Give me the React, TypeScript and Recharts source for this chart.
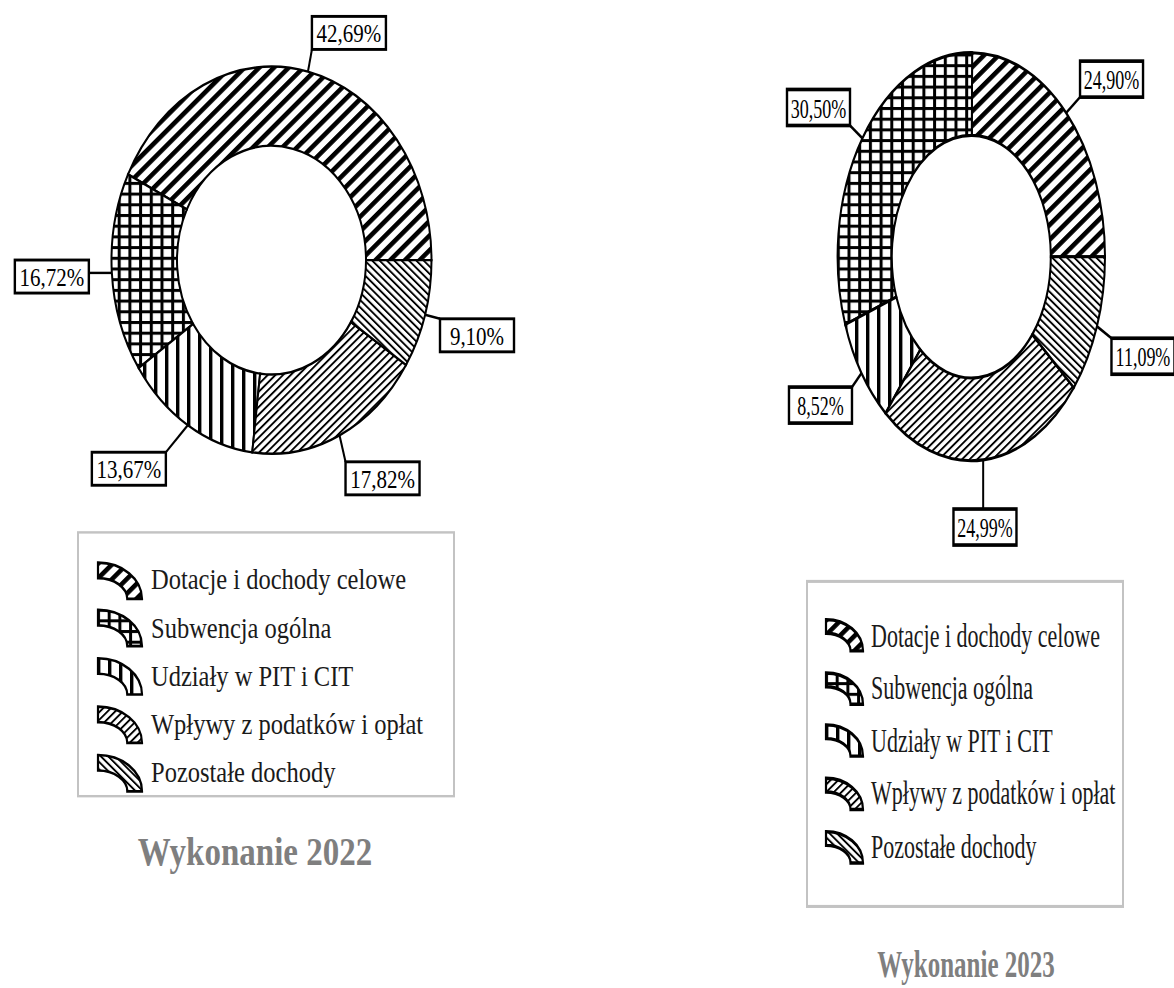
import { Cell, Pie, PieChart } from 'recharts'

// Revenue structure, shares in %
const CATEGORIES = [
  'Dotacje i dochody celowe',
  'Subwencja ogólna',
  'Udziały w PIT i CIT',
  'Wpływy z podatków i opłat',
  'Pozostałe dochody',
]
const SHARES_2022 = [42.69, 16.72, 13.67, 17.82, 9.1]
const SHARES_2023 = [24.9, 30.5, 8.52, 24.99, 11.09]
const TITLES = ['Wykonanie 2022', 'Wykonanie 2023']

const PATTERN_KEYS = ['dot', 'grid', 'vert', 'fine', 'back']
const SERIF = '"Liberation Serif", "Times New Roman", serif'

// Both source charts are vertically stretched pictures; each panel is drawn
// round and then stretched by `stretch`, which also squeezes the text like the original.
const PANELS = [
  {
    id: 'y22',
    shares: SHARES_2022,
    title: TITLES[0],
    left: 0,
    width: 580,
    height: 816,
    stretch: 1.21,
    cx: 266.5,
    cy: 210,
    outer: 160,
    inner: 94.5,
    box: [74, 27.3],
    labelFont: 21,
    nudge: [
      [41, -32],
      [-60, 3],
      [-59, 36],
      [43, 35.5],
      [52, 17],
    ],
    legend: { x: 77, y: 439, w: 378, h: 220, iconX: 97, first: 479.5, step: 39.8, font: 24.5, icon: [46, 32], gap: 8 },
    titleBox: { x: 0, w: 510, y: 704, font: 33 },
  },
  {
    id: 'y23',
    shares: SHARES_2023,
    title: TITLES[1],
    left: 580,
    width: 594,
    height: 648,
    stretch: 1.526,
    cx: 386.3,
    cy: 163.2,
    outer: 133.7,
    inner: 79.5,
    box: [63, 23.6],
    labelFont: 18,
    nudge: [
      [45.4, -22.1],
      [-43.9, -20.2],
      [-41, 21],
      [1.8, 44],
      [46, 19.6],
    ],
    legend: { x: 226, y: 380, w: 318, h: 215, iconX: 245, first: 416.5, step: 34.6, font: 22, icon: [39, 22.5], gap: 7 },
    titleBox: { x: 186, w: 400, y: 631, font: 25 },
  },
]

type Panel = (typeof PANELS)[number]

function fmt(v: number): string {
  return v.toFixed(2).replace('.', ',') + '%'
}

function Patterns({ id, k }: { id: string; k: number }) {
  const fix = `scale(1 ${1 / k})`
  return (
    <defs>
      <pattern id={`${id}-dot`} patternUnits="userSpaceOnUse" width={10.4} height={10.4} patternTransform={`${fix} rotate(45)`}>
        <rect width={10.4} height={10.4} fill="#fff" />
        <rect width={4.6} height={10.4} fill="#000" />
      </pattern>
      <pattern id={`${id}-grid`} patternUnits="userSpaceOnUse" width={10.7} height={10.7} patternTransform={fix}>
        <rect width={10.7} height={10.7} fill="#fff" />
        <rect width={3} height={10.7} fill="#000" />
        <rect width={10.7} height={3} fill="#000" />
      </pattern>
      <pattern id={`${id}-vert`} patternUnits="userSpaceOnUse" width={11} height={11} patternTransform={fix}>
        <rect width={11} height={11} fill="#fff" />
        <rect width={3.4} height={11} fill="#000" />
      </pattern>
      <pattern id={`${id}-fine`} patternUnits="userSpaceOnUse" width={5.4} height={5.4} patternTransform={`${fix} rotate(45)`}>
        <rect width={5.4} height={5.4} fill="#fff" />
        <rect width={1.9} height={5.4} fill="#000" />
      </pattern>
      <pattern id={`${id}-back`} patternUnits="userSpaceOnUse" width={5.2} height={5.2} patternTransform={`${fix} rotate(-45)`}>
        <rect width={5.2} height={5.2} fill="#fff" />
        <rect width={1.9} height={5.2} fill="#000" />
      </pattern>
    </defs>
  )
}

function makeLabel(p: Panel) {
  return (props: any) => {
    const { cx, cy, midAngle, outerRadius, index, value } = props
    const a = (-midAngle * Math.PI) / 180
    const ex = cx + outerRadius * Math.cos(a)
    const ey = cy + outerRadius * Math.sin(a)
    const [dx, dy] = p.nudge[index]
    const bx = ex + dx
    const by = ey + dy
    const [w, h] = p.box
    const x0 = bx - w / 2
    const y0 = by - h / 2
    const lx = Math.min(Math.max(ex, x0), x0 + w)
    const ly = Math.min(Math.max(ey, y0), y0 + h)
    return (
      <g key={`lbl-${index}`}>
        <line x1={ex} y1={ey} x2={lx} y2={ly} stroke="#000" strokeWidth={2} />
        <rect x={x0} y={y0} width={w} height={h} fill="#fff" stroke="#000" strokeWidth={2.4} />
        <text
          x={bx}
          y={by + 0.5}
          textAnchor="middle"
          dominantBaseline="central"
          fontFamily={SERIF}
          fontSize={p.labelFont}
          fill="#000"
        >
          {fmt(value)}
        </text>
      </g>
    )
  }
}

function LegendIcon({ id, pattern, w, h }: { id: string; pattern: string; w: number; h: number }) {
  const t = w * 0.32
  const tv = h * 0.4
  const d = `M1 1 A${w - 2} ${h - 2} 0 0 1 ${w - 1} ${h - 1} L${w - 1 - t} ${h - 1} A${w - 2 - t} ${h - 2 - tv} 0 0 0 1 ${1 + tv} Z`
  return (
    <svg width={w} height={h} style={{ display: 'block', overflow: 'visible' }}>
      <path d={d} fill={`url(#${id}-${pattern})`} stroke="#000" strokeWidth={2.2} strokeLinejoin="miter" />
    </svg>
  )
}

function DonutPanel({ p }: { p: Panel }) {
  const data = CATEGORIES.map((name, i) => ({ name, share: p.shares[i] }))
  const lg = p.legend
  return (
    <div
      style={{
        position: 'absolute',
        left: p.left,
        top: 0,
        width: p.width,
        height: p.height,
        transform: `scaleY(${p.stretch})`,
        transformOrigin: '0 0',
      }}
    >
      <svg width={0} height={0} style={{ position: 'absolute' }}>
        <Patterns id={p.id} k={p.stretch} />
      </svg>
      <div style={{ position: 'absolute', left: 0, top: 0 }}>
        <PieChart width={p.width} height={p.height - 140}>
          <Pie
            data={data}
            dataKey="share"
            nameKey="name"
            cx={p.cx}
            cy={p.cy}
            outerRadius={p.outer}
            innerRadius={p.inner}
            startAngle={0}
            endAngle={360}
            stroke="#000"
            strokeWidth={2}
            label={makeLabel(p)}
            labelLine={false}
            isAnimationActive={false}
          >
            {data.map((d, i) => (
              <Cell key={d.name} fill={`url(#${p.id}-${PATTERN_KEYS[i]})`} />
            ))}
          </Pie>
        </PieChart>
      </div>

      <div
        style={{
          position: 'absolute',
          left: lg.x,
          top: lg.y,
          width: lg.w,
          height: lg.h,
          boxSizing: 'border-box',
          border: '2px solid #c3c3c3',
          background: '#fff',
        }}
      />
      {CATEGORIES.map((name, i) => (
        <div
          key={name}
          style={{
            position: 'absolute',
            left: lg.iconX,
            top: lg.first + i * lg.step - lg.icon[1] / 2,
            height: lg.icon[1],
            display: 'flex',
            alignItems: 'center',
            gap: lg.gap,
            whiteSpace: 'nowrap',
          }}
        >
          <LegendIcon id={p.id} pattern={PATTERN_KEYS[i]} w={lg.icon[0]} h={lg.icon[1]} />
          <span style={{ fontFamily: SERIF, fontSize: lg.font, lineHeight: 1, color: '#1a1a1a' }}>{name}</span>
        </div>
      ))}

      <div
        style={{
          position: 'absolute',
          left: p.titleBox.x,
          width: p.titleBox.w,
          top: p.titleBox.y - p.titleBox.font / 2,
          textAlign: 'center',
          fontFamily: SERIF,
          fontWeight: 700,
          fontSize: p.titleBox.font,
          lineHeight: 1,
          color: '#7f7f7f',
        }}
      >
        {p.title}
      </div>
    </div>
  )
}

export default function App() {
  return (
    <div style={{ position: 'absolute', left: 0, top: 0, width: 1174, height: 988, background: '#fff', overflow: 'hidden' }}>
      {PANELS.map((p) => (
        <DonutPanel key={p.id} p={p} />
      ))}
    </div>
  )
}
